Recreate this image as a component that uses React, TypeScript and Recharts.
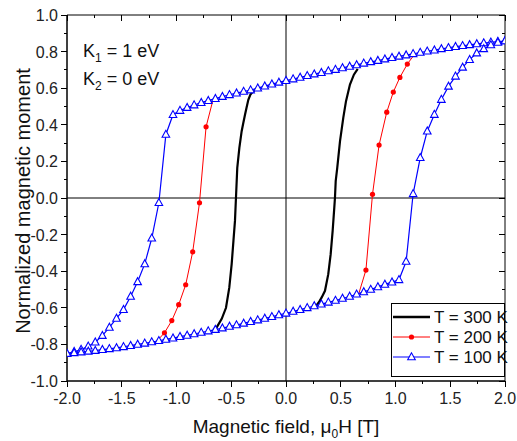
import React from 'react';
import { ComposedChart, Line, XAxis, YAxis, ReferenceLine, ReferenceArea } from 'recharts';

// field grid (T), sweep down from +2 and up from -2
const FIELD_DOWN = [
  2, 1.935, 1.871, 1.806, 1.742, 1.677, 1.613, 1.548, 1.484, 1.419, 1.355, 1.29, 1.226, 1.161, 1.097, 1.032,
  0.968, 0.903, 0.839, 0.774, 0.71, 0.645, 0.581, 0.516, 0.452, 0.387, 0.323, 0.258, 0.194, 0.129, 0.065, 0,
  -0.065, -0.129, -0.194, -0.258, -0.323, -0.387, -0.452, -0.516, -0.581, -0.645, -0.71, -0.774, -0.839, -0.903,
  -0.968, -1.032, -1.097, -1.161, -1.226, -1.29, -1.355, -1.419, -1.484, -1.548, -1.613, -1.677, -1.742, -1.806,
  -1.871, -1.935, -2,
];
const FIELD_UP = [
  -2, -1.935, -1.871, -1.806, -1.742, -1.677, -1.613, -1.548, -1.484, -1.419, -1.355, -1.29, -1.226, -1.161,
  -1.097, -1.032, -0.968, -0.903, -0.839, -0.774, -0.71, -0.645, -0.581, -0.516, -0.452, -0.387, -0.323, -0.258,
  -0.194, -0.129, -0.065, 0, 0.065, 0.129, 0.194, 0.258, 0.323, 0.387, 0.452, 0.516, 0.581, 0.645, 0.71, 0.774,
  0.839, 0.903, 0.968, 1.032, 1.097, 1.161, 1.226, 1.29, 1.355, 1.419, 1.484, 1.548, 1.613, 1.677, 1.742, 1.806,
  1.871, 1.935, 2,
];

// T = 100 K
const M100_DOWN = [
  0.858, 0.855, 0.851, 0.847, 0.842, 0.837, 0.832, 0.827, 0.821, 0.815, 0.808, 0.802, 0.795, 0.788, 0.781, 0.774,
  0.767, 0.759, 0.751, 0.744, 0.736, 0.727, 0.719, 0.711, 0.702, 0.694, 0.685, 0.677, 0.668, 0.659, 0.65, 0.641,
  0.632, 0.622, 0.611, 0.6, 0.59, 0.582, 0.573, 0.564, 0.554, 0.543, 0.532, 0.521, 0.508, 0.494, 0.478, 0.455,
  0.347, -0.026, -0.22, -0.36, -0.458, -0.538, -0.61, -0.658, -0.707, -0.752, -0.788, -0.81, -0.828, -0.84, -0.85,
];
const M100_UP = [
  -0.85, -0.846, -0.842, -0.838, -0.834, -0.829, -0.824, -0.819, -0.813, -0.807, -0.8, -0.794, -0.787, -0.78,
  -0.773, -0.766, -0.758, -0.751, -0.743, -0.735, -0.727, -0.719, -0.711, -0.702, -0.694, -0.685, -0.676, -0.667,
  -0.658, -0.649, -0.639, -0.63, -0.62, -0.61, -0.6, -0.59, -0.58, -0.57, -0.56, -0.549, -0.538, -0.526, -0.513,
  -0.5, -0.486, -0.472, -0.46, -0.447, -0.347, 0.023, 0.22, 0.365, 0.456, 0.538, 0.61, 0.665, 0.714, 0.756, 0.792,
  0.815, 0.836, 0.85, 0.858,
];

// T = 200 K (switching parts only, the rest lies under the 100 K branches)
const H200_DOWN = [-0.665, -0.73, -0.79, -0.852, -0.916, -0.98, -1.043, -1.11, -1.175];
const M200_DOWN = [0.54, 0.389, -0.026, -0.294, -0.474, -0.583, -0.67, -0.737, -0.779];
const H200_UP = [0.665, 0.73, 0.79, 0.85, 0.92, 0.98, 1.04, 1.108, 1.175];
const M200_UP = [-0.522, -0.394, 0.02, 0.289, 0.469, 0.579, 0.659, 0.732, 0.786];

// T = 300 K
const H300_DOWN = [-0.26, -0.3, -0.325, -0.344, -0.36, -0.374, -0.39, -0.405, -0.426, -0.445, -0.457, -0.466, -0.48, -0.496, -0.518, -0.548, -0.587, -0.633, -0.664];
const M300_DOWN = [0.6, 0.583, 0.565, 0.537, 0.495, 0.456, 0.41, 0.365, 0.274, 0.165, 0.0, -0.125, -0.234, -0.36, -0.49, -0.6, -0.66, -0.707, -0.72];
const H300_UP = [0.26, 0.28, 0.305, 0.326, 0.356, 0.386, 0.408, 0.426, 0.441, 0.447, 0.454, 0.468, 0.493, 0.523, 0.548, 0.584, 0.62, 0.655];
const M300_UP = [-0.6, -0.585, -0.565, -0.543, -0.507, -0.416, -0.307, -0.18, -0.053, 0.0, 0.093, 0.165, 0.31, 0.438, 0.529, 0.62, 0.674, 0.705];

const X_TICKS = [-2, -1.75, -1.5, -1.25, -1, -0.75, -0.5, -0.25, 0, 0.25, 0.5, 0.75, 1, 1.25, 1.5, 1.75, 2];
const Y_TICKS = [-1, -0.9, -0.8, -0.7, -0.6, -0.5, -0.4, -0.3, -0.2, -0.1, 0, 0.1, 0.2, 0.3, 0.4, 0.5, 0.6, 0.7, 0.8, 0.9, 1];

const FONT = '"Liberation Sans", Arial, sans-serif';
const W = 517;
const H = 441;
const PLOT_TOP = 15;
const PLOT_RIGHT = 505;

const pts = (h: number[], m: number[]) => h.map((v, i) => ({ h: v, m: m[i] }));

const XTick = (props: any) => {
  const { x, y, payload } = props;
  const v = payload.value;
  const major = Math.abs(v * 2 - Math.round(v * 2)) < 1e-6;
  const len = major ? 6 : 3;
  return (
    <g>
      <line x1={x} x2={x} y1={y} y2={y + len} stroke="#000" shapeRendering="crispEdges" />
      <line x1={x} x2={x} y1={PLOT_TOP} y2={PLOT_TOP + len} stroke="#000" shapeRendering="crispEdges" />
      {major && (
        <text x={x} y={y + 23} textAnchor="middle" fontSize={16} fill="#222" fontFamily={FONT}>
          {v.toFixed(1)}
        </text>
      )}
    </g>
  );
};

const YTick = (props: any) => {
  const { x, y, payload } = props;
  const v = payload.value;
  const major = Math.abs(v * 5 - Math.round(v * 5)) < 1e-6;
  const len = major ? 6 : 3;
  return (
    <g>
      <line x1={x - len} x2={x} y1={y} y2={y} stroke="#000" shapeRendering="crispEdges" />
      <line x1={PLOT_RIGHT - len} x2={PLOT_RIGHT} y1={y} y2={y} stroke="#000" shapeRendering="crispEdges" />
      {major && (
        <text x={x - 9} y={y + 6} textAnchor="end" fontSize={16} fill="#222" fontFamily={FONT}>
          {v.toFixed(1)}
        </text>
      )}
    </g>
  );
};

const triangle = (cx: number, cy: number) =>
  `M${cx},${cy - 4.2} L${cx - 3.8},${cy + 2.8} L${cx + 3.8},${cy + 2.8} Z`;

const TriDot = (props: any) => {
  const { cx, cy, index } = props;
  if (cx == null || cy == null) return <g key={`t${index}`} />;
  return <path key={`t${index}`} d={triangle(cx, cy)} fill="#fff" stroke="#0000ff" strokeWidth={1.1} />;
};

const makeRedDot = (last: number) => (props: any) => {
  const { cx, cy, index } = props;
  if (cx == null || index === 0 || index === last) return <g key={`r${index}`} />;
  return <circle key={`r${index}`} cx={cx} cy={cy} r={2.6} fill="#ff0000" />;
};

const Overlay = () => (
  <svg width={W} height={H} style={{ position: 'absolute', left: 0, top: 0, pointerEvents: 'none' }} fontFamily={FONT}>
    <text x={83} y={57} fontSize={18} fill="#111">
      K<tspan fontSize={12} dy={5}>1</tspan>
      <tspan dy={-5}> = 1 eV</tspan>
    </text>
    <text x={83} y={85} fontSize={18} fill="#111">
      K<tspan fontSize={12} dy={5}>2</tspan>
      <tspan dy={-5}> = 0 eV</tspan>
    </text>

    <text x={30} y={201} fontSize={20} fill="#111" textAnchor="middle" transform="rotate(-90, 30, 201)">
      Normalized magnetic moment
    </text>
    <text x={286} y={433} fontSize={19} fill="#111" textAnchor="middle">
      Magnetic field, μ<tspan fontSize={12} dy={5}>0</tspan>
      <tspan dy={-5}>H [T]</tspan>
    </text>

    <rect x={391.5} y={303.5} width={113} height={73} fill="#fff" stroke="#000" />
    <line x1={393} x2={430} y1={317} y2={317} stroke="#000" strokeWidth={2.4} />
    <line x1={393} x2={430} y1={337} y2={337} stroke="#ff0000" strokeWidth={1} />
    <circle cx={411.5} cy={337} r={2.6} fill="#ff0000" />
    <line x1={393} x2={430} y1={357} y2={357} stroke="#0000ff" strokeWidth={1.2} />
    <path d={triangle(411.5, 357)} fill="#fff" stroke="#0000ff" strokeWidth={1.1} />
    <text x={434} y={323} fontSize={17} fill="#111">T = 300 K</text>
    <text x={434} y={343} fontSize={17} fill="#111">T = 200 K</text>
    <text x={434} y={363} fontSize={17} fill="#111">T = 100 K</text>
  </svg>
);

export default function App() {
  return (
    <div style={{ position: 'absolute', left: 0, top: 0, width: W, height: H, background: '#fff' }}>
      <ComposedChart width={W} height={H} margin={{ top: PLOT_TOP, right: W - PLOT_RIGHT, bottom: 30, left: 7 }}>
        <XAxis
          dataKey="h"
          type="number"
          domain={[-2, 2]}
          ticks={X_TICKS}
          interval={0}
          allowDataOverflow
          height={30}
          tickSize={0}
          tickMargin={0}
          tickLine={false}
          axisLine={{ stroke: '#000' }}
          tick={<XTick />}
        />
        <YAxis
          type="number"
          domain={[-1, 1]}
          ticks={Y_TICKS}
          interval={0}
          allowDataOverflow
          width={60}
          tickSize={0}
          tickMargin={0}
          tickLine={false}
          axisLine={{ stroke: '#000' }}
          tick={<YTick />}
        />
        <ReferenceArea x1={-2} x2={2} y1={-1} y2={1} fill="none" stroke="#000" strokeWidth={1} fillOpacity={0} />
        <ReferenceLine x={0} stroke="#000" strokeWidth={1} />
        <ReferenceLine y={0} stroke="#000" strokeWidth={1} />

        <Line data={pts(H300_DOWN, M300_DOWN)} dataKey="m" type="linear" stroke="#000" strokeWidth={2.2} dot={false} activeDot={false} isAnimationActive={false} />
        <Line data={pts(H300_UP, M300_UP)} dataKey="m" type="linear" stroke="#000" strokeWidth={2.2} dot={false} activeDot={false} isAnimationActive={false} />

        <Line data={pts(H200_DOWN, M200_DOWN)} dataKey="m" type="linear" stroke="#ff0000" strokeWidth={1} dot={makeRedDot(H200_DOWN.length - 1)} activeDot={false} isAnimationActive={false} />
        <Line data={pts(H200_UP, M200_UP)} dataKey="m" type="linear" stroke="#ff0000" strokeWidth={1} dot={makeRedDot(H200_UP.length - 1)} activeDot={false} isAnimationActive={false} />

        <Line data={pts(FIELD_DOWN, M100_DOWN)} dataKey="m" type="linear" stroke="#0000ff" strokeWidth={1.2} dot={TriDot} activeDot={false} isAnimationActive={false} />
        <Line data={pts(FIELD_UP, M100_UP)} dataKey="m" type="linear" stroke="#0000ff" strokeWidth={1.2} dot={TriDot} activeDot={false} isAnimationActive={false} />
      </ComposedChart>
      <Overlay />
    </div>
  );
}
